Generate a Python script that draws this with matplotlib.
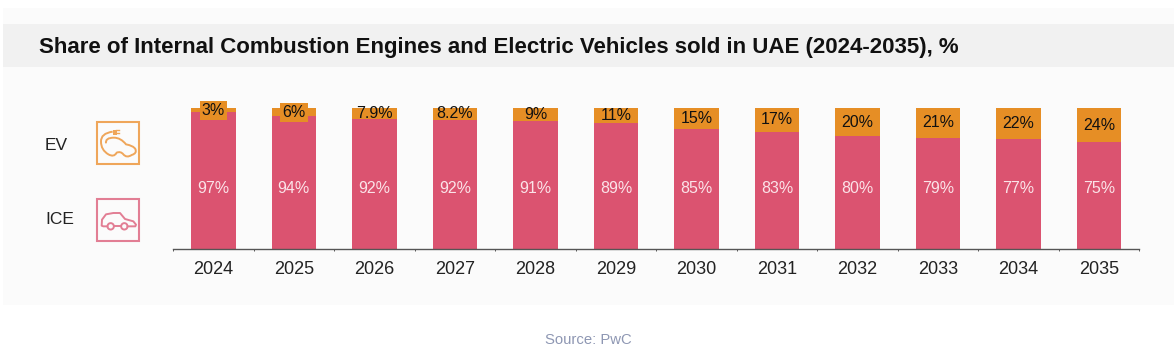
import matplotlib
matplotlib.use("Agg")
import matplotlib.pyplot as plt
from matplotlib.patches import Rectangle, Circle, PathPatch
from matplotlib.path import Path

# values
years = ["2024", "2025", "2026", "2027", "2028", "2029", "2030", "2031", "2032", "2033", "2034", "2035"]
ice = [97, 94, 92, 92, 91, 89, 85, 83, 80, 79, 77, 75]
ev = [3, 6, 7.9, 8.2, 9, 11, 15, 17, 20, 21, 22, 24]

PINK = "#DB5370"
ORANGE = "#E68E25"
EV_LINE = "#EFA65A"
ICE_LINE = "#E27E94"

plt.rcParams["font.family"] = ["Liberation Sans", "DejaVu Sans"]

W, H = 1174, 357
fig = plt.figure(figsize=(W / 100, H / 100), dpi=100, facecolor="white")

# background layer in pixel coordinates
bg = fig.add_axes([0, 0, 1, 1], zorder=0)
bg.set_xlim(0, W)
bg.set_ylim(H, 0)
bg.axis("off")
bg.add_patch(Rectangle((3, 8), W - 3, 297, color="#FBFBFB", lw=0))
bg.add_patch(Rectangle((3, 24), W - 3, 43, color="#F1F1F1", lw=0))

bg.text(39, 47, "Share of Internal Combustion Engines and Electric Vehicles sold in UAE (2024-2035), %",
        fontsize=16, fontweight="bold", color="#111111", va="center", ha="left")
bg.text(588.5, 340, "Source: PwC", fontsize=10.7, color="#8E97B3", va="center", ha="center")

# legend
bg.text(45, 145, "EV", fontsize=12.5, color="#222222", va="center", ha="left")
bg.text(45, 220, "ICE", fontsize=12.5, color="#222222", va="center", ha="left")
bg.add_patch(Rectangle((97, 122), 42, 42, fill=False, ec=EV_LINE, lw=1.5))
bg.add_patch(Rectangle((97, 199), 42, 42, fill=False, ec=ICE_LINE, lw=1.5))


def traced(points, ox, oy):
    # icon outlines were traced on 3x crops with origin (ox, oy)
    return [(ox + px / 3, oy + py / 3) for px, py in points]


# EV icon: cable running into the car body, then a plug
ev_pts = traced([(68, 50), (32, 55), (33, 80), (33, 105), (55, 118), (72, 128), (80, 113), (92, 108),
                 (100, 118), (110, 130), (125, 120), (142, 115), (136, 102), (130, 92), (108, 88),
                 (92, 68), (72, 68), (45, 68), (48, 85)], 90, 115)
ev_codes = [Path.MOVETO] + [Path.CURVE3] * (len(ev_pts) - 1)
bg.add_patch(PathPatch(Path(ev_pts, ev_codes), fill=False, ec=EV_LINE, lw=1.4))
bg.add_patch(Rectangle((112.5, 129.5), 4, 5, color=EV_LINE, lw=0))
bg.plot(*zip(*traced([(78, 46), (87, 46)], 90, 115)), color=EV_LINE, lw=1)
bg.plot(*zip(*traced([(78, 54), (87, 54)], 90, 115)), color=EV_LINE, lw=1)

# ICE icon: car outline with two wheels
ice_pts = traced([(52, 100), (40, 100), (35, 98), (36, 80), (48, 64), (70, 60), (90, 60), (105, 78),
                  (130, 85), (138, 95), (136, 100), (113, 100)], 90, 193)
bg.plot(*zip(*ice_pts), color=ICE_LINE, lw=1.4, solid_joinstyle="round")
bg.plot(*zip(*traced([(72, 100), (93, 100)], 90, 193)), color=ICE_LINE, lw=1.4)
for cx, cy in traced([(62, 100), (103, 100)], 90, 193):
    bg.add_patch(Circle((cx, cy), 3.2, fill=False, ec=ICE_LINE, lw=1.4))

# chart
left, right, top, bottom = 173, 1139.5, 108, 248.7
ax = fig.add_axes([left / W, 1 - bottom / H, (right - left) / W, (bottom - top) / H], zorder=1)
ax.patch.set_alpha(0)

totals = [a + b for a, b in zip(ice, ev)]
ice_share = [a / t * 100 for a, t in zip(ice, totals)]
ev_share = [b / t * 100 for b, t in zip(ev, totals)]

x = list(range(len(years)))
ax.bar(x, ice_share, width=0.553, color=PINK)
ax.bar(x, ev_share, width=0.553, bottom=ice_share, color=ORANGE)

for i in x:
    ax.text(i, 43, f"{ice[i]:g}%", color="#FBE3E8", fontsize=11.5, ha="center", va="center")
    ev_mid = ice_share[i] + ev_share[i] / 2
    # the two thinnest segments carry a label box that sticks out of the bar
    box = dict(facecolor=ORANGE, edgecolor="none", pad=1.5) if ev[i] < 7 else None
    ax.text(i, ev_mid, f"{ev[i]:g}%", color="#111111", fontsize=11.5, ha="center", va="center",
            bbox=box, clip_on=False, zorder=5)

ax.set_xlim(-0.5, len(years) - 0.5)
ax.set_ylim(0, 100)
ax.set_yticks([])
ax.set_xticks(x)
ax.set_xticklabels(years, fontsize=13, color="#222222")
ax.set_xticks([i - 0.5 for i in range(len(years) + 1)], minor=True)
ax.tick_params(axis="x", which="major", length=0, pad=9)
ax.tick_params(axis="x", which="minor", length=1.5, width=0.7, color="#555555")
for side in ["top", "left", "right"]:
    ax.spines[side].set_visible(False)
ax.spines["bottom"].set_color("#555555")
ax.spines["bottom"].set_linewidth(1.0)

fig.savefig("out.png", dpi=100, facecolor=fig.get_facecolor())
